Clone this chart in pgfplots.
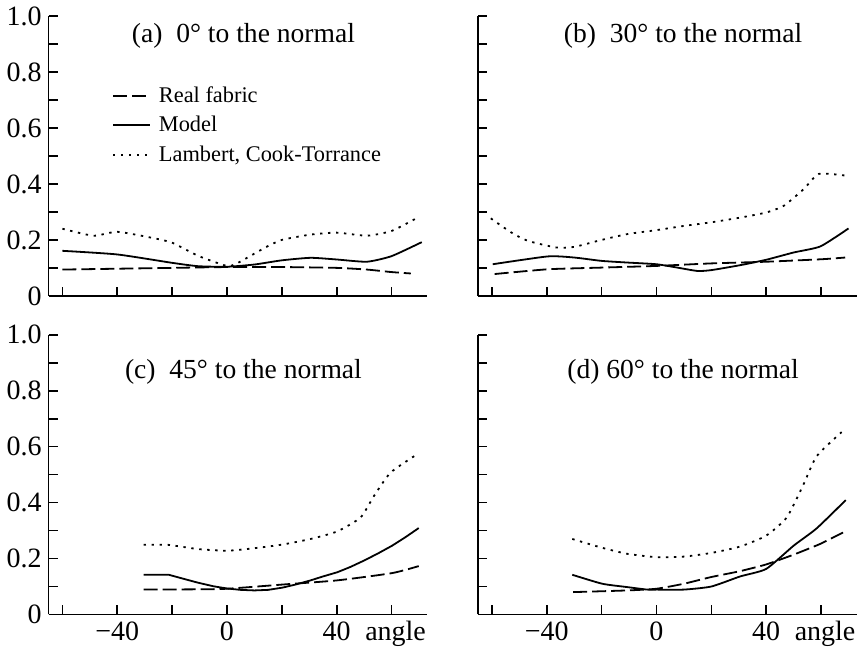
\documentclass[border=0pt]{standalone}
\usepackage{fontspec}
\setmainfont{Liberation Serif}
\usepackage{pgfplots}
\pgfplotsset{compat=1.18}
\usepgfplotslibrary{groupplots}

\pgfplotsset{
  panel/.style={
    scale only axis, width=189.5pt, height=140pt,
    xmin=-65, xmax=73, ymin=0, ymax=1,
    axis lines*=left,
    axis line style={line width=0.8pt},
    tick align=inside, major tick length=4.5pt,
    tick style={line width=0.8pt, black},
    xtick={-60,-40,-20,0,20,40,60},
    xticklabels={,−40,,0,,40,\hspace*{4pt}angle},
    ytick={0,0.1,0.2,0.3,0.4,0.5,0.6,0.7,0.8,0.9,1.0},
    yticklabels={0,,0.2,,0.4,,0.6,,0.8,,1.0},
    ticklabel style={font=\fontsize{14}{14}\selectfont},
    clip=false,
  },
  real/.style={black, line width=0.9pt, dash pattern=on 7pt off 2.5pt, smooth, tension=0.35},
  model/.style={black, line width=0.9pt, smooth, tension=0.35},
  lam/.style={black, line width=0.9pt, dash pattern=on 1.2pt off 2.8pt, smooth, tension=0.35},
}
\tikzset{ttl/.style={font=\fontsize{13.8}{14}\selectfont}}

\begin{document}
\begin{tikzpicture}
\begin{groupplot}[
  group style={group size=2 by 2, horizontal sep=25.5pt, vertical sep=19.5pt,
    xticklabels at=edge bottom, yticklabels at=edge left},
  panel
]
% (a) 0 deg
\nextgroupplot[
  legend style={at={(axis cs:-42,0.765)}, anchor=north west, draw=none, fill=none,
    font=\fontsize{11.2}{12}\selectfont, row sep=1.5pt, inner sep=0pt,
    /tikz/every odd column/.append style={column sep=2pt}},
  legend cell align=left,
  legend image code/.code={\draw[#1] (0pt,0pt) -- (18.5pt,0pt);}
]
\addplot[real] coordinates {(-60,0.094) (-40,0.097) (-20,0.100) (0,0.103) (20,0.103) (40,0.100) (51,0.094) (60,0.085) (67,0.080)};
\addlegendentry{Real fabric}
\addplot[model] coordinates {(-60,0.161) (-40,0.148) (-20,0.118) (-10.5,0.106) (0,0.104) (10,0.112) (20,0.127) (30.5,0.136) (40,0.130) (51,0.122) (60,0.142) (71,0.192)};
\addlegendentry{Model}
\addplot[lam] coordinates {(-60,0.240) (-48.7,0.215) (-40,0.229) (-27.6,0.208) (-20,0.190) (-10.5,0.143) (0,0.107) (4,0.118) (13.8,0.172) (20,0.200) (30.5,0.219) (40,0.226) (51,0.215) (60,0.232) (68.8,0.276)};
\addlegendentry{Lambert, Cook-Torrance}
\node[ttl] at (axis cs:6,0.93) {(a)\ \ 0° to the normal};

% (b) 30 deg
\nextgroupplot
\addplot[real] coordinates {(-59,0.078) (-39.6,0.095) (-20,0.101) (0,0.107) (20,0.116) (40,0.122) (60.4,0.131) (68.8,0.137)};
\addplot[model] coordinates {(-59.7,0.113) (-39.6,0.141) (-30,0.137) (-20,0.125) (-10.5,0.119) (0,0.113) (7.6,0.101) (14.9,0.089) (20,0.092) (30.7,0.110) (40,0.129) (50,0.155) (59.8,0.177) (70,0.241)};
\addplot[lam] coordinates {(-60.4,0.277) (-53,0.227) (-47,0.197) (-36.6,0.173) (-30,0.175) (-20,0.200) (-10.5,0.221) (0,0.235) (10,0.250) (20,0.263) (30.7,0.280) (40,0.298) (46.4,0.322) (53.7,0.382) (59.2,0.436) (68.8,0.430)};
\node[ttl] at (axis cs:9.7,0.93) {(b)\ \ 30° to the normal};

% (c) 45 deg
\nextgroupplot
\addplot[real] coordinates {(-30.4,0.089) (-10.7,0.090) (0,0.092) (20.2,0.107) (40.2,0.122) (60.2,0.148) (69.9,0.173)};
\addplot[black, line width=0.9pt] coordinates {(-30.4,0.142) (-21.2,0.142) (-16,0.128) (-10.7,0.114) (-5,0.101) (0,0.093) (5,0.088) (10,0.086) (15,0.088) (20.2,0.096) (25,0.107) (30.5,0.122) (35,0.136) (40.2,0.151) (45,0.170) (50,0.193) (55,0.218) (60.2,0.246) (65,0.276) (69.9,0.309)};
\addplot[lam] coordinates {(-30.4,0.249) (-21.5,0.249) (-10.7,0.234) (0,0.228) (10,0.237) (20.2,0.250) (30.5,0.270) (40.2,0.297) (48.7,0.347) (53.6,0.424) (59.6,0.507) (68.7,0.569)};
\node[ttl] at (axis cs:6,0.867) {(c)\ \ 45° to the normal};

% (d) 60 deg
\nextgroupplot
\addplot[real] coordinates {(-30.4,0.080) (-10.7,0.086) (0,0.092) (10,0.110) (20,0.134) (30.5,0.155) (40,0.179) (50,0.214) (59.6,0.252) (68,0.293)};
\addplot[model] coordinates {(-30.7,0.142) (-19.8,0.110) (-10.7,0.098) (-3.4,0.089) (0,0.089) (10,0.089) (20,0.100) (30.5,0.136) (40,0.163) (50,0.246) (58.4,0.308) (69,0.409)};
\addplot[lam] coordinates {(-30.7,0.270) (-20.4,0.240) (-10.7,0.217) (0,0.205) (10,0.207) (20,0.220) (30.5,0.243) (40,0.282) (47.5,0.347) (53.6,0.465) (58.4,0.566) (67.5,0.652)};
\node[ttl] at (axis cs:9.7,0.867) {(d) 60° to the normal};
\end{groupplot}
\end{tikzpicture}
\end{document}
